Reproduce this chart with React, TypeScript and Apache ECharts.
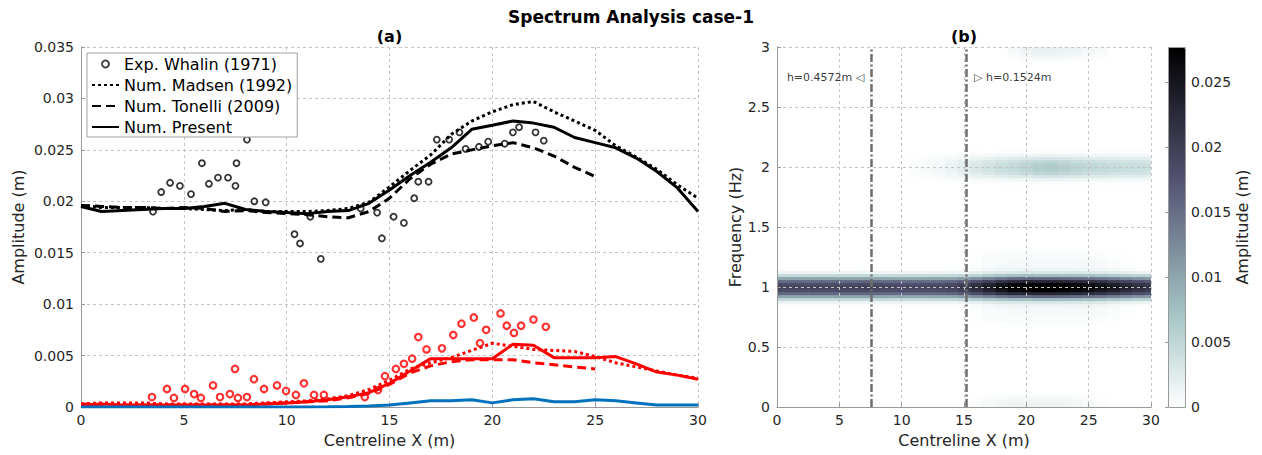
import React, { useEffect, useRef } from 'react';
import * as echarts from 'echarts';

const FONT = 'DejaVu Sans';

// ---------- (a) amplitude along the centreline ----------
const stationX = [0, 1, 2, 3, 4, 5, 6, 7, 8, 9, 10, 11, 12, 13, 14, 15, 16, 17, 18, 19, 20, 21, 22, 23, 24, 25, 26, 27, 28, 29, 30];
const tonelliX = [0, 1, 2, 3, 4, 5, 6, 7, 8, 9, 10, 11, 12, 13, 14, 15, 16, 17, 18, 19, 20, 21, 22, 23, 24, 25];

// first harmonic (black)
const presentFirst = [0.0195, 0.0190, 0.0191, 0.0192, 0.0193, 0.0193, 0.0195, 0.0198, 0.0192, 0.0190, 0.0189, 0.0188, 0.0190, 0.0191, 0.0198, 0.0211, 0.0225, 0.0238, 0.0252, 0.0270, 0.0274, 0.0278, 0.0276, 0.0272, 0.0262, 0.0257, 0.0252, 0.0242, 0.0229, 0.0213, 0.0190];
const madsenFirst = [0.0196, 0.0194, 0.0194, 0.0194, 0.0193, 0.0193, 0.0192, 0.0191, 0.0192, 0.0190, 0.0190, 0.0190, 0.0191, 0.0193, 0.0199, 0.0214, 0.0230, 0.0245, 0.0265, 0.0278, 0.0287, 0.0294, 0.0297, 0.0287, 0.0278, 0.0269, 0.0254, 0.0243, 0.0231, 0.0216, 0.0203];
const tonelliFirst = [0.0196, 0.0195, 0.0194, 0.0194, 0.0193, 0.0194, 0.0193, 0.0190, 0.0191, 0.0189, 0.0188, 0.0187, 0.0185, 0.0184, 0.0190, 0.0203, 0.0222, 0.0236, 0.0246, 0.0250, 0.0254, 0.0257, 0.0252, 0.0244, 0.0233, 0.0224];
const whalinFirstX = [3.5, 3.9, 4.33, 4.81, 5.35, 5.88, 6.22, 6.66, 7.15, 7.51, 7.56, 8.07, 8.43, 8.98, 10.38, 10.65, 11.15, 11.66, 13.6, 14.4, 14.63, 15.2, 15.7, 16.2, 16.4, 16.9, 17.3, 17.9, 18.4, 18.7, 19.35, 19.8, 20.6, 21.0, 21.3, 22.1, 22.5];
const whalinFirstA = [0.0190, 0.0209, 0.0218, 0.0215, 0.0207, 0.0237, 0.0217, 0.0223, 0.0223, 0.0215, 0.0237, 0.0260, 0.0200, 0.0199, 0.0168, 0.0159, 0.0185, 0.0144, 0.0193, 0.0189, 0.0164, 0.0185, 0.0179, 0.0203, 0.0219, 0.0219, 0.0260, 0.0260, 0.0267, 0.0251, 0.0253, 0.0258, 0.0256, 0.0267, 0.0272, 0.0267, 0.0259];

// second harmonic (red)
const presentSecond = [0.0002, 0.0003, 0.0002, 0.0002, 0.0002, 0.0002, 0.0002, 0.0002, 0.0002, 0.0003, 0.0004, 0.0005, 0.0007, 0.0010, 0.0014, 0.0023, 0.0035, 0.0047, 0.0047, 0.0047, 0.0047, 0.0061, 0.0060, 0.0048, 0.0048, 0.0048, 0.0049, 0.0042, 0.0034, 0.0031, 0.0027];
const madsenSecond = [0.0003, 0.0004, 0.0004, 0.0004, 0.0003, 0.0003, 0.0003, 0.0003, 0.0003, 0.0004, 0.0005, 0.0006, 0.0008, 0.0011, 0.0017, 0.0026, 0.0037, 0.0043, 0.0048, 0.0055, 0.0062, 0.0059, 0.0056, 0.0055, 0.0054, 0.0049, 0.0043, 0.0039, 0.0035, 0.0031, 0.0028];
const tonelliSecond = [0.0003, 0.0002, 0.0002, 0.0002, 0.0002, 0.0002, 0.0002, 0.0002, 0.0002, 0.0003, 0.0004, 0.0005, 0.0006, 0.0009, 0.0013, 0.0022, 0.0033, 0.0040, 0.0044, 0.0046, 0.0046, 0.0046, 0.0043, 0.0041, 0.0039, 0.0037];
const whalinSecondX = [3.45, 4.18, 4.52, 5.06, 5.5, 5.83, 6.42, 6.76, 7.24, 7.49, 7.63, 8.07, 8.41, 8.9, 9.53, 9.97, 10.45, 10.84, 11.33, 11.81, 13.8, 14.44, 14.78, 15.31, 15.7, 16.1, 16.4, 16.8, 17.55, 18.1, 18.5, 19.1, 19.4, 19.7, 20.4, 20.7, 21.05, 21.4, 22.0, 22.6];
const whalinSecondA = [0.00097, 0.00175, 0.00088, 0.00175, 0.00126, 0.00088, 0.0021, 0.00097, 0.00126, 0.0037, 0.00088, 0.00097, 0.0027, 0.00175, 0.0021, 0.00156, 0.00117, 0.0023, 0.00117, 0.00117, 0.00097, 0.00165, 0.0030, 0.0037, 0.0042, 0.0047, 0.0068, 0.0056, 0.0057, 0.0070, 0.0081, 0.0087, 0.0062, 0.0075, 0.0091, 0.0079, 0.0072, 0.0079, 0.0085, 0.0078];

// third harmonic (blue)
const presentThird = [0, 0, 0, 0, 0, 0, 0, 0, 0, 0, 0, 0, 0.00002, 0.00005, 0.0001, 0.0002, 0.0004, 0.0006, 0.0006, 0.0007, 0.0004, 0.0007, 0.0008, 0.0005, 0.0005, 0.0007, 0.0006, 0.0004, 0.0002, 0.0002, 0.0002];

// ---------- (b) spectrum map ----------
const FREQ_STEP = 0.025;
const FREQ_ROWS = 121; // 0 .. 3 Hz
const heatX = stationX;
const band1Amp = [0.0195, 0.0192, 0.0193, 0.0193, 0.0193, 0.0194, 0.0195, 0.0197, 0.0193, 0.0191, 0.0190, 0.0190, 0.0191, 0.0192, 0.0197, 0.0208, 0.0222, 0.0238, 0.0255, 0.0268, 0.0273, 0.0277, 0.0277, 0.0273, 0.0266, 0.0260, 0.0254, 0.0245, 0.0235, 0.0225, 0.0215];
const band2Amp = [0, 0, 0, 0, 0, 0, 0, 0, 0, 0, 0, 0.0003, 0.0006, 0.0010, 0.0015, 0.0022, 0.0030, 0.0037, 0.0043, 0.0048, 0.0054, 0.0062, 0.0065, 0.0060, 0.0055, 0.0050, 0.0048, 0.0045, 0.0043, 0.0042, 0.0041];
const band3Amp = [0, 0, 0, 0, 0, 0, 0, 0, 0, 0, 0, 0, 0, 0, 0, 0, 0, 0, 0, 0.0008, 0.0014, 0.0018, 0.0018, 0.0016, 0.0014, 0.0010, 0.0005, 0, 0, 0, 0];
const band0Amp = [0, 0, 0, 0, 0, 0, 0, 0, 0, 0, 0, 0, 0, 0, 0, 0, 0.0004, 0.0009, 0.0013, 0.0015, 0.0015, 0.0015, 0.0015, 0.0014, 0.0012, 0.0008, 0.0003, 0, 0, 0, 0];
const haloAmp = [0, 0, 0, 0, 0, 0, 0, 0, 0, 0, 0, 0, 0, 0, 0, 0, 0.0004, 0.0008, 0.0010, 0.0011, 0.0012, 0.0012, 0.0012, 0.0012, 0.0012, 0.0011, 0.0009, 0.0006, 0.0002, 0, 0];
const bandProfile = [1, 0.95, 0.8, 0.52, 0.24, 0.07, 0.015];
const haloProfile = [1, 1, 1, 1, 0.95, 0.9, 0.85, 0.75, 0.65, 0.55, 0.45, 0.35, 0.25, 0.12, 0.04];
const AMP_MAX = 0.0277;
const boneReversed = ['#ffffff', '#d3e3e3', '#a7c7c7', '#8ba1ab', '#707a8f', '#545474', '#38384d', '#1c1c27', '#000000'];

const bands = [
  { centre: 1, amp: band1Amp, profile: bandProfile },
  { centre: 2, amp: band2Amp, profile: bandProfile },
  { centre: 3, amp: band3Amp, profile: bandProfile },
  { centre: 0, amp: band0Amp, profile: bandProfile },
  { centre: 1, amp: haloAmp, profile: haloProfile },
];

function buildHeat() {
  const cells: number[][] = [];
  for (let i = 0; i < heatX.length; i++) {
    for (let j = 0; j < FREQ_ROWS; j++) {
      let v = 0;
      for (const b of bands) {
        const k = Math.abs(j - Math.round(b.centre / FREQ_STEP));
        if (k < b.profile.length) v += b.amp[i] * b.profile[k];
      }
      if (v > 0.00005) cells.push([heatX[i], +(j * FREQ_STEP).toFixed(3), Math.min(v, AMP_MAX)]);
    }
  }
  return cells;
}

const pairs = (xs: number[], ys: number[]) => ys.map((y, i) => [xs[i], y]);
const fmt = (v: number) => String(parseFloat(v.toFixed(4)));

const LG = { left: 81, top: 47, width: 617, height: 360 };
const RG = { left: 777, top: 47, width: 374, height: 360 };
const CB = { left: 1168, top: 47, width: 17, height: 360 };

const AXIS_GRAY = '#999999';
const TXT = '#262626';
const splitLine = { show: true, lineStyle: { color: '#c4c4c4', type: [3, 3] as any, width: 1 } };
const tickLabel = { fontSize: 14, color: TXT, fontFamily: FONT };
const nameStyle = { fontSize: 16, color: TXT, fontFamily: FONT };
const hiddenDot = { color: 'rgba(0,0,0,0)', borderWidth: 0, borderColor: 'rgba(0,0,0,0)' };

export default function App() {
  const ref = useRef<HTMLDivElement>(null);
  useEffect(() => {
    const chart = echarts.init(ref.current!, null, { renderer: 'svg' });
    const heat = buildHeat();
    const black = '#000000';
    const red = '#ff0000';
    const option: any = {
      animation: false,
      backgroundColor: '#ffffff',
      textStyle: { fontFamily: FONT },
      grid: [
        { ...LG },
        { ...RG },
        { ...CB },
      ],
      xAxis: [
        {
          gridIndex: 0, type: 'value', min: 0, max: 30, interval: 5,
          name: 'Centreline X (m)', nameLocation: 'middle', nameGap: 25, nameTextStyle: nameStyle,
          axisLine: { show: true, lineStyle: { color: AXIS_GRAY } },
          axisTick: { show: true, inside: true, length: 4, lineStyle: { color: AXIS_GRAY } },
          axisLabel: { ...tickLabel, margin: 6 },
          splitLine,
        },
        {
          gridIndex: 1, type: 'value', min: 0, max: 30, interval: 5, z: 5,
          name: 'Centreline X (m)', nameLocation: 'middle', nameGap: 25, nameTextStyle: nameStyle,
          axisLine: { show: true, lineStyle: { color: AXIS_GRAY } },
          axisTick: { show: true, inside: true, length: 4, lineStyle: { color: AXIS_GRAY } },
          axisLabel: { ...tickLabel, margin: 6 },
          splitLine,
        },
        {
          gridIndex: 1, type: 'value', min: 0, max: 30, position: 'top', z: 5,
          axisLine: { show: true, lineStyle: { color: AXIS_GRAY } },
          axisTick: { show: false }, axisLabel: { show: false }, splitLine: { show: false },
        },
        {
          gridIndex: 2, type: 'value', min: 0, max: 1, show: false,
        },
      ],
      yAxis: [
        {
          gridIndex: 0, type: 'value', min: 0, max: 0.035, interval: 0.005,
          name: 'Amplitude (m)', nameLocation: 'middle', nameGap: 55, nameTextStyle: nameStyle,
          axisLine: { show: true, lineStyle: { color: AXIS_GRAY } },
          axisTick: { show: true, inside: true, length: 4, lineStyle: { color: AXIS_GRAY } },
          axisLabel: { ...tickLabel, margin: 7, formatter: fmt },
          splitLine,
        },
        {
          gridIndex: 1, type: 'value', min: 0, max: 3, interval: 0.5, z: 5,
          name: 'Frequency (Hz)', nameLocation: 'middle', nameGap: 34, nameTextStyle: nameStyle,
          axisLine: { show: true, lineStyle: { color: AXIS_GRAY } },
          axisTick: { show: true, inside: true, length: 4, lineStyle: { color: AXIS_GRAY } },
          axisLabel: { ...tickLabel, margin: 7, formatter: fmt },
          splitLine,
        },
        {
          gridIndex: 1, type: 'value', min: 0, max: 3, position: 'right', z: 5,
          axisLine: { show: true, lineStyle: { color: AXIS_GRAY } },
          axisTick: { show: false }, axisLabel: { show: false }, splitLine: { show: false },
        },
        {
          gridIndex: 2, type: 'value', min: 0, max: AMP_MAX, interval: 0.005, position: 'right', z: 5,
          name: 'Amplitude (m)', nameLocation: 'middle', nameGap: 48, nameRotate: 90, nameTextStyle: nameStyle,
          axisLine: { show: false },
          axisTick: { show: true, inside: true, length: 3, lineStyle: { color: AXIS_GRAY } },
          axisLabel: { ...tickLabel, margin: 6, formatter: fmt, showMaxLabel: false },
          splitLine: { show: false },
        },
      ],
      visualMap: {
        type: 'continuous', min: 0, max: AMP_MAX, dimension: 2, seriesIndex: 9,
        calculable: false, show: true, orient: 'vertical',
        left: CB.left, top: CB.top, itemWidth: CB.width, itemHeight: CB.height,
        padding: 0, text: null, inRange: { color: boneReversed },
        hoverLink: false,
      },
      legend: {
        orient: 'vertical', left: 87, top: 53,
        data: [
          { name: 'Exp. Whalin (1971)', itemStyle: { color: 'rgba(0,0,0,0)', borderColor: '#000', borderWidth: 1.8 } },
          { name: 'Num. Madsen (1992)', itemStyle: hiddenDot },
          { name: 'Num. Tonelli (2009)', itemStyle: hiddenDot },
          { name: 'Num. Present', itemStyle: hiddenDot },
        ],
        backgroundColor: '#ffffff', borderColor: '#a0a0a0', borderWidth: 1,
        padding: [3, 5, 2, 4], itemGap: 5, itemWidth: 27, itemHeight: 7,
        textStyle: { fontSize: 16, color: '#000', fontFamily: FONT },
        z: 20,
      },
      graphic: [
        { type: 'text', left: 'center', top: 8, style: { text: 'Spectrum Analysis case-1', font: `bold 17px "${FONT}"`, fill: '#000' } },
        { type: 'text', x: LG.left + LG.width / 2, y: 36, style: { text: '(a)', font: `bold 16px "${FONT}"`, fill: '#000', textAlign: 'center', textVerticalAlign: 'middle' } },
        { type: 'text', x: RG.left + RG.width / 2, y: 36, style: { text: '(b)', font: `bold 16px "${FONT}"`, fill: '#000', textAlign: 'center', textVerticalAlign: 'middle' } },
        { type: 'rect', z: 50, shape: { x: CB.left + 0.5, y: CB.top + 0.5, width: CB.width, height: CB.height }, style: { fill: 'none', stroke: AXIS_GRAY, lineWidth: 1 } },
      ],
      series: [
        {
          name: 'Exp. Whalin (1971)', type: 'scatter', xAxisIndex: 0, yAxisIndex: 0,
          data: pairs(whalinFirstX, whalinFirstA), symbol: 'circle', symbolSize: 6,
          itemStyle: { color: 'rgba(0,0,0,0)', borderColor: black, borderWidth: 1.8 }, z: 4,
        },
        {
          name: 'Num. Madsen (1992)', type: 'line', xAxisIndex: 0, yAxisIndex: 0,
          data: pairs(stationX, madsenFirst), showSymbol: false, symbol: 'none',
          lineStyle: { color: black, width: 3, type: [3, 3] }, itemStyle: { color: black }, z: 3,
        },
        {
          name: 'Num. Tonelli (2009)', type: 'line', xAxisIndex: 0, yAxisIndex: 0,
          data: pairs(tonelliX, tonelliFirst), showSymbol: false, symbol: 'none',
          lineStyle: { color: black, width: 3, type: [9, 5] }, itemStyle: { color: black }, z: 3,
        },
        {
          name: 'Num. Present', type: 'line', xAxisIndex: 0, yAxisIndex: 0,
          data: pairs(stationX, presentFirst), showSymbol: false, symbol: 'none',
          lineStyle: { color: black, width: 3 }, itemStyle: { color: black }, z: 3,
        },
        {
          name: 'Exp. Whalin (1971) 2nd harmonic', type: 'scatter', xAxisIndex: 0, yAxisIndex: 0,
          data: pairs(whalinSecondX, whalinSecondA), symbol: 'circle', symbolSize: 6.5,
          itemStyle: { color: 'rgba(0,0,0,0)', borderColor: red, borderWidth: 2.2 }, z: 4,
        },
        {
          name: 'Num. Madsen (1992) 2nd harmonic', type: 'line', xAxisIndex: 0, yAxisIndex: 0,
          data: pairs(stationX, madsenSecond), showSymbol: false, symbol: 'none',
          lineStyle: { color: red, width: 3, type: [3, 3] }, z: 3,
        },
        {
          name: 'Num. Tonelli (2009) 2nd harmonic', type: 'line', xAxisIndex: 0, yAxisIndex: 0,
          data: pairs(tonelliX, tonelliSecond), showSymbol: false, symbol: 'none',
          lineStyle: { color: red, width: 3, type: [9, 5] }, z: 3,
        },
        {
          name: 'Num. Present 2nd harmonic', type: 'line', xAxisIndex: 0, yAxisIndex: 0,
          data: pairs(stationX, presentSecond), showSymbol: false, symbol: 'none',
          lineStyle: { color: red, width: 3 }, z: 3,
        },
        {
          name: 'Num. Present 3rd harmonic', type: 'line', xAxisIndex: 0, yAxisIndex: 0,
          data: pairs(stationX, presentThird), showSymbol: false, symbol: 'none',
          lineStyle: { color: '#0072bd', width: 3 }, z: 3,
        },
        {
          name: 'Spectrum', type: 'custom', xAxisIndex: 1, yAxisIndex: 1,
          data: heat, z: 2, silent: true,
          renderItem: (params: any, api: any) => {
            const x = api.value(0);
            const f = api.value(1);
            const a = api.coord([x - 0.5, f + FREQ_STEP / 2]);
            const b = api.coord([x + 0.5, f - FREQ_STEP / 2]);
            const cs = params.coordSys;
            const rect = echarts.graphic.clipRectByRect(
              { x: a[0], y: a[1], width: b[0] - a[0] + 0.6, height: b[1] - a[1] + 0.6 },
              { x: cs.x, y: cs.y, width: cs.width, height: cs.height },
            );
            if (!rect) return null;
            return { type: 'rect', shape: rect, style: { fill: api.visual('color') } };
          },
          markLine: {
            silent: true, symbol: ['none', 'none'], label: { show: false },
            lineStyle: { color: '#6e6e6e', width: 2.5, type: [8, 2.5, 2, 2.5] },
            data: [{ xAxis: 7.6 }, { xAxis: 15.2 }],
          },
        },
        {
          name: 'Depth labels', type: 'scatter', xAxisIndex: 1, yAxisIndex: 1,
          symbolSize: 1, itemStyle: { color: 'rgba(0,0,0,0)' }, silent: true, z: 6,
          label: { show: true, fontSize: 11, color: '#000', fontFamily: FONT, distance: 7 },
          data: [
            { value: [7.6, 2.75], label: { position: 'left', formatter: 'h=0.4572m \u25C1' } },
            { value: [15.2, 2.75], label: { position: 'right', formatter: '\u25B7 h=0.1524m' } },
          ],
        },
      ],
    };
    chart.setOption(option);
    return () => chart.dispose();
  }, []);
  return <div ref={ref} style={{ position: 'fixed', left: 0, top: 0, width: 1262, height: 455, background: '#fff' }} />;
}
